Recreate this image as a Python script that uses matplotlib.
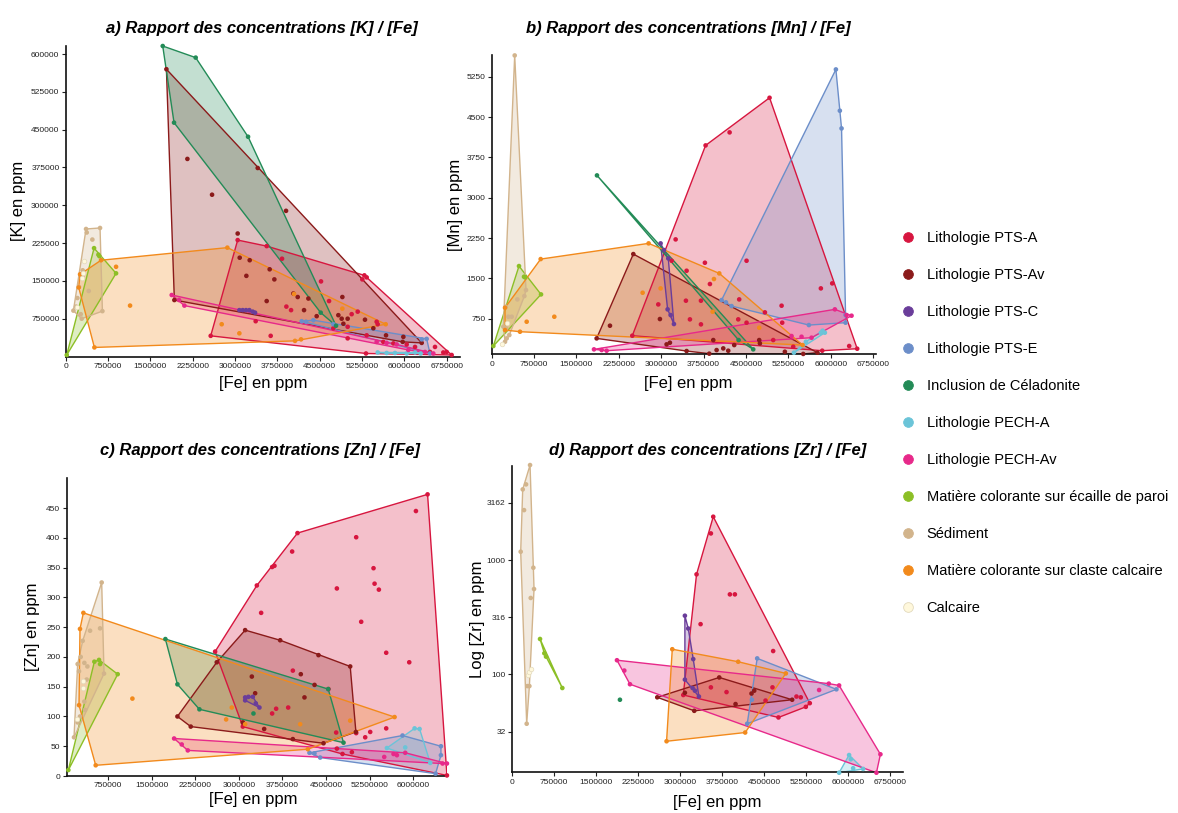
import matplotlib
matplotlib.use("Agg")
import matplotlib.pyplot as plt
import numpy as np
from matplotlib.patches import Polygon
from matplotlib.lines import Line2D
from matplotlib.ticker import FixedLocator, FixedFormatter

plt.rcParams['font.family'] = ['Liberation Sans', 'DejaVu Sans']

GROUPS = ["Lithologie PTS-A", "Lithologie PTS-Av", "Lithologie PTS-C", "Lithologie PTS-E",
          "Inclusion de Céladonite", "Lithologie PECH-A", "Lithologie PECH-Av",
          "Matière colorante sur écaille de paroi", "Sédiment",
          "Matière colorante sur claste calcaire", "Calcaire"]
COLORS = ["#D7163F", "#8B1A1A", "#6A3D9A", "#6C8EC9", "#238B57", "#6BC4D8", "#E7298A",
          "#8CBF26", "#D2B48C", "#F28A1C", "#FFF8DC"]

# ---------------- a) [K] vs [Fe] (ppm) ----------------
K_PTS_A = [(3047e3,231e3),(3561e3,219e3),(3833e3,194e3),(4524e3,149e3),(3910e3,99e3),(3993e3,92e3),
           (4666e3,110e3),(5292e3,161e3),(5333e3,157e3),(5256e3,153e3),(5067e3,84e3),(5174e3,89e3),
           (5510e3,69e3),(5528e3,64e3),(4996e3,36e3),(3366e3,70e3),(3632e3,41e3),(2569e3,41e3),
           (4742e3,56e3),(4996e3,59e3),(5333e3,42e3),(5628e3,29e3),(5806e3,26e3),(6042e3,24e3),
           (6190e3,19e3),(6455e3,9e3),(6544e3,19e3),(6691e3,8e3),(6751e3,9e3),(6839e3,3e3),(5321e3,6e3)]
K_PTS_AV = [(1784e3,570e3),(3402e3,374e3),(3904e3,289e3),(2156e3,392e3),(2593e3,321e3),(3047e3,244e3),
            (3083e3,196e3),(3260e3,191e3),(3201e3,160e3),(3614e3,173e3),(3697e3,153e3),(3561e3,110e3),
            (4034e3,125e3),(4111e3,118e3),(4223e3,92e3),(4300e3,115e3),(4447e3,80e3),(4902e3,118e3),
            (4831e3,82e3),(4890e3,75e3),(4920e3,65e3),(4996e3,75e3),(5303e3,73e3),(5451e3,56e3),
            (5676e3,42e3),(5983e3,39e3),(5971e3,29e3),(6308e3,27e3),(1925e3,112e3)]
K_PTS_C = [(3077e3,92e3),(3136e3,92e3),(3195e3,92e3),(3254e3,92e3),(3313e3,89e3),(3355e3,87e3)]
K_PTS_E = [(4181e3,70e3),(4258e3,69e3),(4388e3,72e3),(4742e3,64e3),(6308e3,34e3),(6396e3,35e3),(6455e3,6e3)]
K_CEL = [(1719e3,616e3),(2303e3,593e3),(3231e3,436e3),(4518e3,87e3),(4790e3,61e3),(1919e3,464e3)]
K_PECH_A = [(5528e3,8e3),(5687e3,7e3),(5835e3,7e3),(6042e3,6e3),(6190e3,8e3),(6290e3,6e3)]
K_PECH_AV = [(1878e3,122e3),(2008e3,112e3),(2103e3,101e3),(5510e3,29e3),(5687e3,27e3),(5865e3,24e3),
             (6071e3,13e3),(6367e3,9e3),(6514e3,6e3)]
K_ECAILLE = [(18e3,3e3),(502e3,215e3),(579e3,202e3),(597e3,199e3),(892e3,165e3)]
K_SED = [(360e3,253e3),(372e3,246e3),(608e3,255e3),(472e3,232e3),(301e3,171e3),(301e3,157e3),(236e3,138e3),
         (408e3,130e3),(207e3,116e3),(183e3,99e3),(136e3,91e3),(266e3,84e3),(283e3,75e3),(650e3,90e3)]
K_CALC = [(325e3,189e3),(301e3,165e3),(283e3,155e3),(195e3,99e3)]
K_CLASTE = [(230e3,137e3),(254e3,163e3),(626e3,191e3),(892e3,178e3),(1140e3,101e3),(2864e3,216e3),
            (2764e3,64e3),(3077e3,46e3),(4063e3,31e3),(4170e3,34e3),(5670e3,64e3),(4902e3,95e3),
            (4046e3,124e3),(508e3,18e3)]

# ---------------- b) [Mn] vs [Fe] (ppm) ----------------
MN_PTS_A = [(3785e3,3973),(4917e3,4859),(4210e3,4215),(3255e3,2225),(3184e3,1828),(3773e3,1791),(3449e3,1642),
            (3862e3,1395),(4510e3,1828),(4380e3,1109),(3437e3,1085),(3703e3,1085),(3508e3,738),(3703e3,645),
            (2948e3,1016),(4363e3,738),(4510e3,676),(4835e3,868),(5130e3,992),(5141e3,676),(4982e3,353),
            (5825e3,1314),(6026e3,1407),(6326e3,242),(6468e3,192),(2488e3,434),(5849e3,155),(5336e3,229)]
MN_PTS_AV = [(2506e3,1952),(1857e3,384),(2093e3,620),(2977e3,744),(3095e3,273),(3154e3,304),(3449e3,149),
             (3850e3,100),(3921e3,353),(3980e3,167),(4098e3,198),(4186e3,155),(4292e3,260),(4734e3,353),
             (4746e3,291),(5188e3,136),(5513e3,95),(5766e3,118)]
MN_PTS_C = [(2989e3,2151),(3048e3,2027),(3125e3,1872),(3113e3,924),(3166e3,818),(3225e3,651)]
MN_PTS_E = [(6091e3,5386),(6161e3,4618),(6191e3,4289),(4068e3,1097),(4145e3,1054),(4245e3,985),
            (5613e3,632),(6262e3,818),(6262e3,676)]
MN_CEL = [(1863e3,3415),(4369e3,353),(4628e3,180)]
MN_PECH_A = [(5348e3,118),(5560e3,322),(5825e3,490),(5896e3,490),(5855e3,527)]
MN_PECH_AV = [(1810e3,180),(1946e3,167),(2034e3,155),(6073e3,924),(6279e3,818),(6368e3,806),
              (5306e3,428),(5483e3,415),(5660e3,397)]
MN_ECAILLE = [(29e3,242),(483e3,1729),(572e3,1531),(590e3,1519),(873e3,1202)]
MN_SED = [(407e3,5646),(607e3,1283),(578e3,1171),(454e3,1109),(354e3,787),(295e3,787),(248e3,973),
          (206e3,601),(254e3,570),(312e3,446),(265e3,384),(236e3,322)]
MN_CALC = [(177e3,279),(277e3,663)]
MN_CLASTE = [(867e3,1859),(236e3,954),(236e3,539),(501e3,508),(619e3,694),(1108e3,787),(2777e3,2151),
             (4027e3,1593),(3933e3,1488),(2671e3,1233),(2989e3,1314),(3909e3,880),(4734e3,583),(5501e3,260)]

# ---------------- c) [Zn] vs [Fe] (ppm) ----------------
ZN_PTS_A = [(2592e3,209),(3309e3,320),(3383e3,274),(3572e3,351),(3612e3,353),(3916e3,377),(4008e3,408),
            (5017e3,401),(4685e3,315),(5315e3,349),(5333e3,323),(5407e3,313),(5103e3,259),(5533e3,207),
            (5929e3,191),(6044e3,445),(6244e3,473),(3928e3,177),(4541e3,146),(3641e3,113),(3572e3,105),
            (3848e3,115),(4673e3,73),(5017e3,72),(5172e3,65),(5258e3,74),(5533e3,80),(4685e3,46),
            (4782e3,37),(4943e3,40),(3068e3,83),(6577e3,1)]
ZN_PTS_AV = [(3108e3,245),(3710e3,228),(4369e3,203),(4914e3,184),(5012e3,74),(4455e3,55),(3928e3,62),
             (3435e3,79),(3068e3,90),(2173e3,83),(1944e3,100),(2620e3,191),(3223e3,167),(4065e3,171),
             (4128e3,132),(3280e3,139),(4301e3,153)]
ZN_PTS_C = [(3108e3,132),(3165e3,133),(3240e3,133),(3291e3,122),(3354e3,115),(3108e3,127)]
ZN_PTS_E = [(4214e3,39),(4300e3,38),(4398e3,31),(5814e3,68),(6474e3,50),(6474e3,35),(6382e3,4)]
ZN_CEL = [(1737e3,230),(1944e3,154),(2322e3,112),(3251e3,105),(4536e3,146),(4799e3,56)]
ZN_PECH_A = [(5545e3,47),(5860e3,48),(6021e3,80),(6107e3,79),(6290e3,22)]
ZN_PECH_AV = [(1887e3,63),(2018e3,53),(2122e3,43),(5499e3,32),(5659e3,37),(5717e3,35),(5860e3,39),
              (6502e3,21),(6577e3,21)]
ZN_ECAILLE = [(69e3,10),(516e3,192),(596e3,195),(614e3,188),(917e3,171)]
ZN_SED = [(642e3,325),(442e3,244),(614e3,248),(315e3,227),(281e3,200),(229e3,188),(344e3,190),(396e3,184),
          (252e3,176),(384e3,162),(682e3,172),(344e3,125),(356e3,111),(269e3,100),(229e3,90),(166e3,65)]
ZN_CALC = [(327e3,160),(315e3,147),(212e3,95)]
ZN_CLASTE = [(327e3,274),(269e3,247),(252e3,119),(539e3,18),(1170e3,130),(2878e3,115),(2781e3,95),
             (3108e3,87),(4054e3,87),(4914e3,93),(5677e3,99),(4186e3,45)]

# ---------------- d) Log [Zr] vs [Fe] (ppm) ----------------
ZR_PTS_A = [(3596e3,2394),(3554e3,1710),(3298e3,750),(3370e3,275),(3893e3,501),(3982e3,501),(4665e3,160),
            (3554e3,77),(3833e3,70),(4653e3,77),(4529e3,59),(5081e3,64),(5158e3,63),(5319e3,56),
            (5248e3,52),(4760e3,42),(3061e3,66)]
ZR_PTS_AV = [(2597e3,63),(3090e3,69),(3703e3,94),(4279e3,68),(4327e3,72),(5004e3,60),(3994e3,55),(3257e3,48)]
ZR_PTS_C = [(3090e3,326),(3150e3,252),(3239e3,136),(3090e3,90),(3227e3,76),(3269e3,72),(3340e3,64)]
ZR_PTS_E = [(4380e3,138),(5794e3,74),(4202e3,37),(4285e3,60)]
ZR_CEL = [(1931e3,60)]
ZR_PECH_A = [(6020e3,19.7),(6050e3,18.1),(5842e3,13.8),(6092e3,15.1),(6270e3,14.9)]
ZR_PECH_AV = [(1878e3,133),(2009e3,108),(2110e3,82),(5485e3,73),(5658e3,83),(5842e3,80),
              (6579e3,20),(6508e3,13.8)]
ZR_ECAILLE = [(505e3,204),(582e3,153),(612e3,143),(903e3,76)]
ZR_SED = [(327e3,6776),(256e3,4592),(196e3,4150),(220e3,2735),(160e3,1183),(386e3,857),(398e3,558),
          (339e3,466),(315e3,79),(279e3,79),(267e3,37)]
ZR_CALC = [(297e3,99),(315e3,105),(339e3,111)]
ZR_CLASTE = [(2865e3,166),(4041e3,129),(4891e3,102),(2763e3,26),(4166e3,31)]

# tick values / labels
FE_TICKS = [0, 750000, 1500000, 2250000, 3000000, 3750000, 4500000, 5250000, 6000000, 6750000]
FE_LABELS = ["0", "750000", "1500000", "2250000", "3000000", "3750000", "4500000", "5250000", "6000000", "6750000"]
K_TICKS = [75000, 150000, 225000, 300000, 375000, 450000, 525000, 600000]
K_LABELS = ["750000", "150000", "225000", "300000", "375000", "450000", "525000", "600000"]
MN_TICKS = [750, 1500, 2250, 3000, 3750, 4500, 5250]
ZN_TICKS = [0, 50, 100, 150, 200, 250, 300, 350, 400, 450]
FE_TICKS_C = [750000, 1500000, 2250000, 3000000, 3750000, 4500000, 5250000, 6000000]
FE_LABELS_C = ["750000", "1500000", "2250000", "3000000", "3750000", "4500000", "52500000", "6000000"]
ZR_TICKS = [31.62, 100, 316.2, 1000, 3162]
ZR_LABELS = ["32", "100", "316", "1000", "3162"]

PANEL_A = [K_PTS_A, K_PTS_AV, K_PTS_C, K_PTS_E, K_CEL, K_PECH_A, K_PECH_AV, K_ECAILLE, K_SED, K_CLASTE, K_CALC]
PANEL_B = [MN_PTS_A, MN_PTS_AV, MN_PTS_C, MN_PTS_E, MN_CEL, MN_PECH_A, MN_PECH_AV, MN_ECAILLE, MN_SED, MN_CLASTE, MN_CALC]
PANEL_C = [ZN_PTS_A, ZN_PTS_AV, ZN_PTS_C, ZN_PTS_E, ZN_CEL, ZN_PECH_A, ZN_PECH_AV, ZN_ECAILLE, ZN_SED, ZN_CLASTE, ZN_CALC]
PANEL_D = [ZR_PTS_A, ZR_PTS_AV, ZR_PTS_C, ZR_PTS_E, ZR_CEL, ZR_PECH_A, ZR_PECH_AV, ZR_ECAILLE, ZR_SED, ZR_CLASTE, ZR_CALC]


def convex_hull(pts):
    pts = sorted(set(pts))
    if len(pts) <= 2:
        return pts
    def cross(o, a, b):
        return (a[0]-o[0])*(b[1]-o[1]) - (a[1]-o[1])*(b[0]-o[0])
    lower = []
    for p in pts:
        while len(lower) >= 2 and cross(lower[-2], lower[-1], p) <= 0:
            lower.pop()
        lower.append(p)
    upper = []
    for p in reversed(pts):
        while len(upper) >= 2 and cross(upper[-2], upper[-1], p) <= 0:
            upper.pop()
        upper.append(p)
    return lower[:-1] + upper[:-1]


def draw_panel(ax, groups, logy=False):
    for gi, pts in enumerate(groups):
        col = COLORS[gi]
        edge = "#E2D9BC" if gi == 10 else col
        xs = np.array([p[0] for p in pts])
        ys = np.array([p[1] for p in pts])
        if len(pts) >= 3 and gi != 10:
            scale = 1e5 if max(ys) > 1e4 else 1
            tr = [(x / 1e6, np.log10(y) if logy else y / scale) for x, y in pts]
            idx = {t: i for i, t in enumerate(tr)}
            h = convex_hull(tr)
            hp = [pts[idx[t]] for t in h]
            ax.add_patch(Polygon(hp, closed=True, facecolor=col, alpha=0.27, edgecolor='none', zorder=1))
            ax.add_patch(Polygon(hp, closed=True, facecolor='none', edgecolor=col, lw=1.0, zorder=2))
        elif len(pts) == 2 and gi != 10:
            ax.plot(xs, ys, color=col, lw=1.0, zorder=2)
        ax.scatter(xs, ys, s=11, color=COLORS[gi], edgecolors=edge if gi == 10 else 'none',
                   linewidths=0.5, zorder=3, clip_on=False)


def style_axes(ax):
    for s in ['top', 'right']:
        ax.spines[s].set_visible(False)
    for s in ['left', 'bottom']:
        ax.spines[s].set_linewidth(1.2)
        ax.spines[s].set_color('#111111')
    ax.tick_params(axis='both', labelsize=6, length=3, width=0.8, pad=1.5, colors='#222222')


fig = plt.figure(figsize=(11.78, 8.13), dpi=100)

# ---- a ----
axa = fig.add_axes([0.0558, 0.5615, 0.3347, 0.3819])
draw_panel(axa, PANEL_A)
axa.set_xlim(0, 6987e3)
axa.set_ylim(0, 616e3)
axa.xaxis.set_major_locator(FixedLocator(FE_TICKS))
axa.xaxis.set_major_formatter(FixedFormatter(FE_LABELS))
axa.yaxis.set_major_locator(FixedLocator(K_TICKS))
axa.yaxis.set_major_formatter(FixedFormatter(K_LABELS))
style_axes(axa)
axa.set_ylabel("[K] en ppm", fontsize=12)
axa.yaxis.set_label_coords(-0.1007, 0.5)
axa.set_xlabel("[Fe] en ppm", fontsize=12)
axa.xaxis.set_label_coords(0.5, -0.063)

# ---- b ----
axb = fig.add_axes([0.4174, 0.5640, 0.3262, 0.3684])
draw_panel(axb, PANEL_B)
axb.set_xlim(0, 6800e3)
axb.set_ylim(85, 5655)
axb.xaxis.set_major_locator(FixedLocator(FE_TICKS))
axb.xaxis.set_major_formatter(FixedFormatter(FE_LABELS))
axb.yaxis.set_major_locator(FixedLocator(MN_TICKS))
axb.yaxis.set_major_formatter(FixedFormatter([str(v) for v in MN_TICKS]))
style_axes(axb)
axb.set_ylabel("[Mn] en ppm", fontsize=12)
axb.yaxis.set_label_coords(-0.0747, 0.5)
axb.set_xlabel("[Fe] en ppm", fontsize=12)
axb.xaxis.set_label_coords(0.511, -0.072)

# ---- c ----
axc = fig.add_axes([0.0566, 0.0455, 0.3228, 0.3662])
draw_panel(axc, PANEL_C)
axc.set_xlim(40e3, 6577e3)
axc.set_ylim(0, 500)
axc.xaxis.set_major_locator(FixedLocator(FE_TICKS_C))
axc.xaxis.set_major_formatter(FixedFormatter(FE_LABELS_C))
axc.yaxis.set_major_locator(FixedLocator(ZN_TICKS))
axc.yaxis.set_major_formatter(FixedFormatter([str(v) for v in ZN_TICKS]))
style_axes(axc)
axc.set_ylabel("[Zn] en ppm", fontsize=12)
axc.yaxis.set_label_coords(-0.071, 0.5)
axc.set_xlabel("[Fe] en ppm", fontsize=12)
axc.xaxis.set_label_coords(0.49, -0.054)

# ---- d ----
axd = fig.add_axes([0.4344, 0.0500, 0.3322, 0.3771])
axd.set_yscale('log')
draw_panel(axd, PANEL_D, logy=True)
axd.set_xlim(0, 6983e3)
axd.set_ylim(13.9, 6680)
axd.xaxis.set_major_locator(FixedLocator(FE_TICKS))
axd.xaxis.set_major_formatter(FixedFormatter(FE_LABELS))
axd.yaxis.set_major_locator(FixedLocator(ZR_TICKS))
axd.yaxis.set_major_formatter(FixedFormatter(ZR_LABELS))
axd.yaxis.set_minor_locator(FixedLocator([]))
style_axes(axd)
axd.set_ylabel("Log [Zr] en ppm", fontsize=12)
axd.yaxis.set_label_coords(-0.0675, 0.5)
axd.set_xlabel("[Fe] en ppm", fontsize=12)
axd.xaxis.set_label_coords(0.524, -0.074)

# titles
tkw = dict(fontsize=12, fontweight='bold', fontstyle='italic', ha='center', va='center')
fig.text(262/1178, 1-28/813, "a) Rapport des concentrations [K] / [Fe]", **tkw)
fig.text(688/1178, 1-28/813, "b) Rapport des concentrations [Mn] / [Fe]", **tkw)
fig.text(260/1178, 1-450/813, "c) Rapport des concentrations [Zn] / [Fe]", **tkw)
fig.text(708/1178, 1-450/813, "d) Rapport des concentrations [Zr] / [Fe]", **tkw)

# legend
handles = []
for i, g in enumerate(GROUPS):
    ec = "#E2D9BC" if i == 10 else COLORS[i]
    handles.append(Line2D([], [], marker='o', ls='', ms=7, markerfacecolor=COLORS[i],
                          markeredgecolor=ec, markeredgewidth=0.6))
fig.legend(handles, GROUPS, loc='upper left', bbox_to_anchor=(901/1178, 1-231/813),
           frameon=False, fontsize=10.5, labelspacing=1.58, handletextpad=0.76,
           handlelength=1.0, borderpad=0, borderaxespad=0)

fig.savefig("out.png", dpi=100)
